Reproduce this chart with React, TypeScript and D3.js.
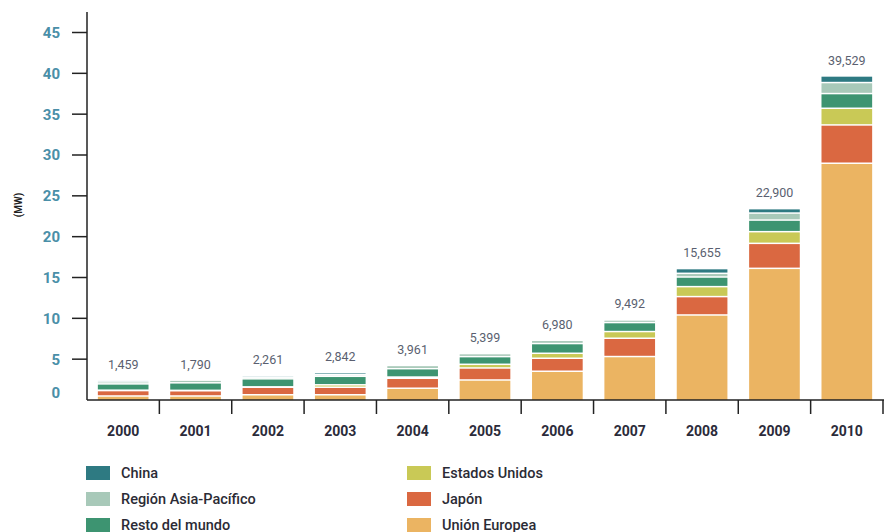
import React from 'react';
import * as d3 from 'd3';

const years = ['2000', '2001', '2002', '2003', '2004', '2005', '2006', '2007', '2008', '2009', '2010'];
const totalLabels = ['1,459', '1,790', '2,261', '2,842', '3,961', '5,399', '6,980', '9,492', '15,655', '22,900', '39,529'];

// values in thousands of MW, bottom to top
const unionEuropea = [0.4, 0.4, 0.55, 0.55, 1.35, 2.36, 3.43, 5.23, 10.32, 16.03, 28.9];
const japon = [0.66, 0.64, 0.92, 0.92, 1.22, 1.47, 1.59, 2.24, 2.25, 3.06, 4.69];
const estadosUnidos = [0.05, 0.05, 0.05, 0.3, 0.15, 0.45, 0.61, 0.82, 1.22, 1.43, 2.04];
const restoMundo = [0.77, 0.92, 0.98, 1.04, 1.02, 0.94, 1.19, 1.1, 1.18, 1.42, 1.8];
const asiaPacifico = [0.25, 0.33, 0.2, 0.2, 0.4, 0.37, 0.4, 0.32, 0.45, 0.86, 1.35];
const china = [0.2, 0, 0.2, 0.25, 0, 0, 0, 0.05, 0.58, 0.54, 0.81];

const yTicks = [5, 10, 15, 20, 25, 30, 35, 40, 45];

const series = [
  { key: 'ue', name: 'Unión Europea', values: unionEuropea, color: '#EBB462' },
  { key: 'jp', name: 'Japón', values: japon, color: '#DA6841' },
  { key: 'us', name: 'Estados Unidos', values: estadosUnidos, color: '#C9C956' },
  { key: 'rm', name: 'Resto del mundo', values: restoMundo, color: '#3D9471' },
  { key: 'ap', name: 'Región Asia-Pacífico', values: asiaPacifico, color: '#A8C9B9' },
  { key: 'cn', name: 'China', values: china, color: '#2E7A82' },
];

const legendLeft = ['cn', 'ap', 'rm'];
const legendRight = ['us', 'jp', 'ue'];

const FONT = "'Liberation Sans Narrow', 'Roboto', 'DejaVu Sans', sans-serif";

export default function App() {
  const width = 885;
  const height = 532;
  const x0 = 87;
  const x1 = 883;
  const baseY = 400;

  const x = d3.scaleBand<string>().domain(years).range([x0, x1]).paddingInner(0.3).paddingOuter(0.15);
  const y = d3.scaleLinear().domain([0, 45]).range([baseY, 32.5]);

  const rows = years.map((yr, i) => {
    const r: any = { year: yr };
    series.forEach(s => { r[s.key] = s.values[i]; });
    return r;
  });
  const stacked = d3.stack<any>().keys(series.map(s => s.key))(rows);

  const step = x.step();
  const boundaries = years.map((_, i) => x0 + (i + 1) * ((x1 - x0) / years.length));
  const gap = 1.5;

  const byKey = (k: string) => series.find(s => s.key === k)!;

  return (
    <svg width={width} height={height} style={{ position: 'absolute', left: 0, top: 0, background: '#fff' }}>
      {/* bars */}
      {stacked.map((layer, li) => (
        <g key={layer.key} fill={series[li].color}>
          {layer.map((d, i) => {
            const top = y(d[1]);
            const bottom = y(d[0]) - (li === 0 ? 0 : gap);
            const h = bottom - top;
            if (h <= 0) return null;
            return <rect key={i} x={x(years[i])} y={top} width={x.bandwidth()} height={h} />;
          })}
        </g>
      ))}

      {/* totals */}
      {years.map((yr, i) => {
        const tot = stacked[stacked.length - 1][i][1];
        return (
          <text key={yr} x={(x(yr) || 0) + x.bandwidth() / 2} y={y(tot) - 12} textAnchor="middle"
            fontFamily={FONT} fontSize={12.5} fill="#5a5f70">{totalLabels[i]}</text>
        );
      })}

      {/* y axis */}
      <line x1={x0} x2={x0} y1={12} y2={baseY} stroke="#222" strokeWidth={1.5} />
      {yTicks.map(t => (
        <g key={t}>
          <line x1={72} x2={x0} y1={y(t)} y2={y(t)} stroke="#222" strokeWidth={1.5} />
          <text x={60} y={y(t)} dy="0.36em" textAnchor="end" fontFamily={FONT} fontWeight="bold"
            fontSize={15} fill="#4A8FA8">{t}</text>
        </g>
      ))}
      <text x={60} y={y(0) - 7} dy="0.36em" textAnchor="end" fontFamily={FONT} fontWeight="bold"
        fontSize={15} fill="#4A8FA8">0</text>
      <text transform={`translate(18,${205}) rotate(-90)`} textAnchor="middle" dy="0.36em"
        fontFamily={FONT} fontWeight="bold" fontSize={10} fill="#222">(MW)</text>

      {/* x axis */}
      <line x1={x0} x2={x1 + 1} y1={baseY} y2={baseY} stroke="#222" strokeWidth={1.5} />
      {boundaries.map((bx, i) => (
        <line key={i} x1={bx} x2={bx} y1={baseY} y2={baseY + 14} stroke="#222" strokeWidth={1.5} />
      ))}
      {years.map(yr => (
        <text key={yr} x={x0 + (years.indexOf(yr) + 0.5) * step} y={431} dy="0.36em" textAnchor="middle"
          fontFamily={FONT} fontWeight="bold" fontSize={14} fill="#2b2b3a">{yr}</text>
      ))}

      {/* legend */}
      {[legendLeft, legendRight].map((col, ci) => col.map((k, ri) => {
        const s = byKey(k);
        const lx = ci === 0 ? 86 : 407;
        const ly = 473 + ri * 26;
        return (
          <g key={k}>
            <rect x={lx} y={ly - 7} width={24} height={14} fill={s.color} />
            <text x={lx + 35} y={ly} dy="0.36em" fontFamily={FONT} fontSize={14.5} fontWeight={500}
              fill="#2b2b35">{s.name}</text>
          </g>
        );
      }))}
    </svg>
  );
}
